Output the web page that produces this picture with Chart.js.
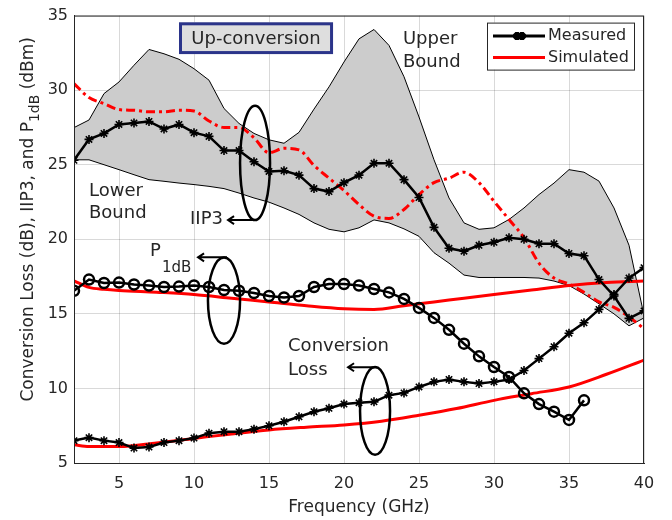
<!DOCTYPE html>
<html>
<head>
<meta charset="utf-8">
<script src="https://cdn.jsdelivr.net/npm/chart.js@4.4.1/dist/chart.umd.min.js"></script>
<style>
  html, body { margin: 0; padding: 0; background: #fff; }
</style>
</head>
<body>
<canvas id="myChart" width="672" height="520"></canvas>
<script>
// ---- data ----
const xTicks = [5, 10, 15, 20, 25, 30, 35, 40];
const yTicks = [5, 10, 15, 20, 25, 30, 35];

const freqMeas = [2,3,4,5,6,7,8,9,10,11,12,13,14,15,16,17,18,19,20,21,22,23,24,25,26,27,28,29,30,31,32,33,34,35,36,37,38,39,40];
const iip3Meas = [25.3,26.7,27.1,27.7,27.8,27.9,27.4,27.7,27.15,26.9,25.95,25.95,25.2,24.55,24.6,24.3,23.4,23.2,23.8,24.3,25.1,25.1,24.0,22.8,20.8,19.4,19.2,19.6,19.8,20.1,20.0,19.7,19.7,19.05,18.9,17.3,16.2,14.7,15.2];
const clMeas = [6.5,6.7,6.5,6.37,6.0,6.07,6.37,6.5,6.67,7.0,7.1,7.1,7.27,7.5,7.77,8.1,8.44,8.67,8.95,9.04,9.1,9.55,9.7,10.1,10.44,10.6,10.44,10.33,10.44,10.6,11.2,12.0,12.8,13.7,14.4,15.3,16.3,17.4,18.1];

const freqP1 = [2,3,4,5,6,7,8,9,10,11,12,13,14,15,16,17,18,19,20,21,22,23,24,25,26,27,28,29,30,31,32,33,34,35,36];
const p1Meas = [16.55,17.3,17.07,17.1,16.97,16.9,16.8,16.83,16.9,16.8,16.6,16.55,16.4,16.2,16.1,16.2,16.8,17.0,17.0,16.9,16.67,16.44,16.0,15.4,14.73,13.93,13.0,12.15,11.44,10.77,9.67,8.95,8.44,7.89,9.2];

const freqSimIip3 = [2,3,4,5,6,7,8,9,10,11,12,13,14,15,16,17,18,19,20,21,22,23,24,25,26,27,28,29,30,31,32,33,34,35,36,37,38,39,40];
const iip3Sim = [30.44,29.5,29.1,28.7,28.65,28.55,28.55,28.65,28.6,27.93,27.5,27.5,26.8,25.8,26.1,26.0,24.95,24.1,23.27,22.33,21.55,21.4,22.0,23.0,23.8,24.1,24.5,23.8,22.55,21.33,20.1,18.4,17.4,17.0,16.44,15.8,15.44,14.8,14.0];

const freqSimP1 = [2,3,4,5,7.5,10,12.5,15,17.5,20,22,24,26,28,30,32.5,35,37.5,40];
const p1Sim = [17.22,16.78,16.65,16.57,16.45,16.3,16.05,15.8,15.55,15.35,15.3,15.55,15.8,16.05,16.3,16.6,16.9,17.1,17.2];

const freqSimCl = [2,3,5,7.5,10,12.5,15,17.5,20,22.5,25,27.5,30,32.5,35,37.5,40];
const clSim = [6.22,6.1,6.1,6.35,6.65,6.95,7.22,7.4,7.55,7.8,8.2,8.65,9.2,9.65,10.1,10.95,11.9];

const freqBound = [2,3,4,5,6,7,8,9,10,11,12,13,14,15,16,17,18,19,20,21,22,23,24,25,26,27,28,29,30,31,32,33,34,35,36,37,38,39,40];
const upperBound = [27.49,28.0,29.77,30.55,31.67,32.73,32.44,32.07,31.44,30.67,28.77,27.77,27.1,26.67,26.44,27.17,28.73,30.22,31.89,33.44,34.07,33.0,30.9,28.2,25.33,22.77,21.1,20.67,20.77,21.33,22.1,23.0,23.77,24.67,24.5,23.9,22.1,19.6,14.9];
const lowerBound = [25.33,25.33,25.0,24.67,24.33,24.0,23.89,23.77,23.67,23.55,23.4,23.1,22.77,22.49,22.1,21.67,21.1,20.67,20.5,20.77,21.3,21.1,20.7,20.2,19.1,18.4,17.6,17.44,17.44,17.44,17.44,17.4,17.2,16.9,16.33,15.67,15.0,14.2,14.73];

// ---- styling ----
const FONT = '"DejaVu Sans", Verdana, sans-serif';
const TEXT = '#262626';
const RED = '#ff0000';

function pts(xs, ys) {
  return ys.map((y, i) => ({ x: xs[i], y: y }));
}

// annotations in data coordinates
const ellipses = [
  { x: 14.07, y: 25.12, rx: 1.0, ry: 3.83 },  // IIP3
  { x: 12.0, y: 15.89, rx: 1.07, ry: 2.89 },  // P1dB
  { x: 22.07, y: 8.49, rx: 1.0, ry: 2.94 }    // conversion loss
];
const arrows = [
  { from: 13.93, to: 12.27, y: 21.29 },
  { from: 12.2, to: 10.27, y: 18.79 },
  { from: 22.2, to: 20.27, y: 11.42 }
];
const notes = [
  { text: 'Upper', x: 23.93, y: 33.39, align: 'left' },
  { text: 'Bound', x: 23.93, y: 31.85, align: 'left' },
  { text: 'Lower', x: 3.0, y: 23.25, align: 'left' },
  { text: 'Bound', x: 3.0, y: 21.72, align: 'left' },
  { text: 'IIP3', x: 11.93, y: 21.37, align: 'right' },
  { text: 'Conversion', x: 16.27, y: 12.82, align: 'left' },
  { text: 'Loss', x: 16.27, y: 11.22, align: 'left' }
];

const annotate = {
  id: 'annotate',
  afterDatasetsDraw(chart) {
    const ctx = chart.ctx, sx = chart.scales.x, sy = chart.scales.y, area = chart.chartArea;
    ctx.save();
    // box around the plot
    ctx.strokeStyle = TEXT;
    ctx.lineWidth = 1;
    ctx.strokeRect(area.left + 0.5, area.top + 0.5, area.right - area.left - 1, area.bottom - area.top);

    // ellipses and arrows
    ctx.strokeStyle = '#000';
    ctx.lineWidth = 2.5;
    ellipses.forEach(e => {
      const cx = sx.getPixelForValue(e.x), cy = sy.getPixelForValue(e.y);
      const rx = sx.getPixelForValue(e.x + e.rx) - cx, ry = cy - sy.getPixelForValue(e.y + e.ry);
      ctx.beginPath();
      ctx.ellipse(cx, cy, rx, ry, 0, 0, Math.PI * 2);
      ctx.stroke();
    });
    ctx.lineWidth = 2;
    arrows.forEach(a => {
      const x1 = sx.getPixelForValue(a.from), x2 = sx.getPixelForValue(a.to), y = sy.getPixelForValue(a.y);
      ctx.beginPath();
      ctx.moveTo(x1, y); ctx.lineTo(x2, y);
      ctx.moveTo(x2 + 6, y - 4); ctx.lineTo(x2, y); ctx.lineTo(x2 + 6, y + 4);
      ctx.stroke();
    });

    // text notes
    ctx.fillStyle = TEXT;
    ctx.textBaseline = 'middle';
    ctx.font = '18px ' + FONT;
    notes.forEach(n => {
      ctx.textAlign = n.align;
      ctx.fillText(n.text, sx.getPixelForValue(n.x), sy.getPixelForValue(n.y));
    });
    // P with subscript 1dB
    ctx.textAlign = 'left';
    ctx.fillText('P', sx.getPixelForValue(7.07), sy.getPixelForValue(19.19));
    ctx.font = '15px ' + FONT;
    ctx.fillText('1dB', sx.getPixelForValue(7.87), sy.getPixelForValue(18.05));

    // "Up-conversion" box
    const bx1 = sx.getPixelForValue(9.0), bx2 = sx.getPixelForValue(19.27);
    const by1 = sy.getPixelForValue(34.55), by2 = sy.getPixelForValue(32.42);
    ctx.fillStyle = '#dedede';
    ctx.fillRect(bx1, by1, bx2 - bx1, by2 - by1);
    ctx.strokeStyle = '#2b348a';
    ctx.lineWidth = 3;
    ctx.strokeRect(bx1 + 1.5, by1 + 1.5, bx2 - bx1 - 3, by2 - by1 - 3);
    ctx.fillStyle = TEXT;
    ctx.textAlign = 'center';
    ctx.font = '18px ' + FONT;
    ctx.fillText('Up-conversion', (bx1 + bx2) / 2, (by1 + by2) / 2 + 1);

    // legend
    const lw = 147, lh = 47;
    const lx = area.right - 10 - lw, ly = area.top + 7;
    ctx.fillStyle = '#fff';
    ctx.fillRect(lx, ly, lw, lh);
    ctx.strokeStyle = TEXT;
    ctx.lineWidth = 1;
    ctx.strokeRect(lx + 0.5, ly + 0.5, lw, lh);
    const r1 = ly + 13.5, r2 = ly + 35;
    ctx.lineWidth = 3;
    ctx.strokeStyle = '#000';
    ctx.beginPath(); ctx.moveTo(lx + 6, r1); ctx.lineTo(lx + 58, r1); ctx.stroke();
    ctx.fillStyle = '#000';
    Chart.helpers.drawPoint(ctx, { pointStyle: 'star', radius: 4, borderWidth: 1.5 }, lx + 30, r1);
    Chart.helpers.drawPoint(ctx, { pointStyle: 'star', radius: 4, borderWidth: 1.5 }, lx + 35, r1);
    ctx.strokeStyle = RED;
    ctx.lineWidth = 3;
    ctx.beginPath(); ctx.moveTo(lx + 6, r2); ctx.lineTo(lx + 58, r2); ctx.stroke();
    ctx.fillStyle = TEXT;
    ctx.textAlign = 'left';
    ctx.font = '16px ' + FONT;
    ctx.fillText('Measured', lx + 61, r1);
    ctx.fillText('Simulated', lx + 61, r2);
    ctx.restore();
  },
  afterDraw(chart) {
    // y axis title with subscript
    const ctx = chart.ctx, area = chart.chartArea;
    const partA = 'Conversion Loss (dB), IIP3, and P', sub = '1dB', partB = ' (dBm)';
    ctx.save();
    ctx.translate(29, (area.top + area.bottom) / 2 - 20);
    ctx.rotate(-Math.PI / 2);
    ctx.fillStyle = TEXT;
    ctx.textBaseline = 'middle';
    ctx.textAlign = 'left';
    ctx.font = '17px ' + FONT;
    const wA = ctx.measureText(partA).width, wB = ctx.measureText(partB).width;
    ctx.font = '14px ' + FONT;
    const wS = ctx.measureText(sub).width;
    let x0 = -(wA + wS + wB) / 2;
    ctx.font = '17px ' + FONT;
    ctx.fillText(partA, x0, 0);
    ctx.font = '14px ' + FONT;
    ctx.fillText(sub, x0 + wA, 6);
    ctx.font = '17px ' + FONT;
    ctx.fillText(partB, x0 + wA + wS, 0);
    ctx.restore();
  }
};

const measuredStar = {
  borderColor: '#000', borderWidth: 2.5, pointStyle: 'star', pointRadius: 4.5,
  pointBorderWidth: 1.6, pointBorderColor: '#000', pointBackgroundColor: '#000',
  tension: 0, fill: false
};

new Chart(document.querySelector('#myChart'), {
  type: 'line',
  data: {
    datasets: [
      Object.assign({ label: 'IIP3 measured', data: pts(freqMeas, iip3Meas), order: 1 }, measuredStar),
      Object.assign({ label: 'CL measured', data: pts(freqMeas, clMeas), order: 1 }, measuredStar),
      {
        label: 'P1dB measured', data: pts(freqP1, p1Meas), order: 1,
        borderColor: '#000', borderWidth: 2.5, pointStyle: 'circle', pointRadius: 5,
        pointBorderWidth: 2.5, pointBorderColor: '#000', pointBackgroundColor: 'rgba(0,0,0,0)',
        tension: 0, fill: false
      },
      {
        label: 'IIP3 simulated', data: pts(freqSimIip3, iip3Sim), order: 5,
        borderColor: RED, borderWidth: 3, borderDash: [9, 4, 3, 4], pointRadius: 0,
        cubicInterpolationMode: 'monotone', fill: false
      },
      {
        label: 'P1dB simulated', data: pts(freqSimP1, p1Sim), order: 5,
        borderColor: RED, borderWidth: 3, pointRadius: 0, cubicInterpolationMode: 'monotone', fill: false
      },
      {
        label: 'CL simulated', data: pts(freqSimCl, clSim), order: 5,
        borderColor: RED, borderWidth: 3, pointRadius: 0, cubicInterpolationMode: 'monotone', fill: false
      },
      {
        label: 'Upper Bound', data: pts(freqBound, upperBound), order: 11,
        borderColor: '#000', borderWidth: 1, pointRadius: 0, tension: 0,
        fill: '+1', backgroundColor: '#cccccc'
      },
      {
        label: 'Lower Bound', data: pts(freqBound, lowerBound), order: 10,
        borderColor: '#000', borderWidth: 1, pointRadius: 0, tension: 0, fill: false
      }
    ]
  },
  options: {
    responsive: false,
    animation: false,
    layout: { padding: { top: 13, right: 28, left: 0, bottom: 0 } },
    plugins: { legend: { display: false }, tooltip: { enabled: false } },
    scales: {
      x: {
        type: 'linear', min: 2, max: 40, z: 1,
        afterBuildTicks: s => { s.ticks = xTicks.map(v => ({ value: v })); },
        afterFit: s => { s.height = 57; },
        grid: { color: 'rgba(0,0,0,0.15)', drawTicks: false },
        border: { color: TEXT },
        ticks: { font: { family: FONT, size: 16 }, color: TEXT, padding: 11, maxRotation: 0 },
        title: { display: true, text: 'Frequency (GHz)', font: { family: FONT, size: 17 }, color: TEXT, padding: { top: 0, bottom: 2 } }
      },
      y: {
        type: 'linear', min: 5, max: 35, z: 1,
        afterBuildTicks: s => { s.ticks = yTicks.map(v => ({ value: v })); },
        afterFit: s => { s.width = 74; },
        grid: { color: 'rgba(0,0,0,0.15)', drawTicks: false },
        border: { color: TEXT },
        ticks: { font: { family: FONT, size: 16 }, color: TEXT, padding: 6 }
      }
    }
  },
  plugins: [annotate]
});
</script>
</body>
</html>
